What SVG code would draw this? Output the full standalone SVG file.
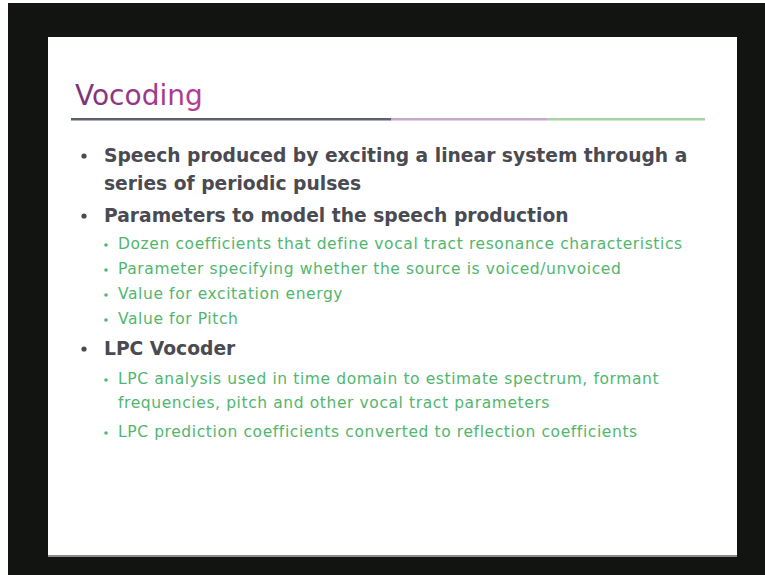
<svg xmlns="http://www.w3.org/2000/svg" width="765" height="575" viewBox="0 0 765 575">
  <style>
    .title { font-family: "DejaVu Sans", "Liberation Sans", sans-serif; font-size: 28px; }
    .main { font-family: "DejaVu Sans", "Liberation Sans", sans-serif; font-size: 18.7px; font-weight: bold; fill: #4a4a52; }
    .sub { font-family: "DejaVu Sans", "Liberation Sans", sans-serif; font-size: 15.5px; letter-spacing: 0.6px; fill: #52b66e; }
    .dot { fill: #4a4a52; }
    .sdot { fill: #52b66e; }
  </style>
  <defs>
    <linearGradient id="titleGrad" x1="0" y1="0" x2="1" y2="0">
      <stop offset="0" stop-color="#7a3478"/>
      <stop offset="1" stop-color="#b83c94"/>
    </linearGradient>
  </defs>

  <!-- page and dark frame -->
  <rect x="0" y="0" width="765" height="575" fill="#ffffff"/>
  <rect x="8" y="3" width="757" height="572" fill="#111410"/>
  <rect x="48" y="37" width="689" height="520" fill="#ffffff"/>
  <rect x="48" y="555" width="689" height="2" fill="#8a8c8a"/>

  <!-- title -->
  <g id="title">
    <text class="title" x="75" y="105" style="fill:url(#titleGrad)">Vocoding</text>
    <rect x="71" y="118" width="320" height="2.5" fill="#5c6172"/>
    <rect x="391" y="118" width="156" height="2.5" fill="#cba6cc"/>
    <rect x="547" y="118" width="158" height="2.5" fill="#a6d3a2"/>
  </g>

  <!-- bullet 1 -->
  <g id="b1">
    <circle class="dot" cx="84" cy="156" r="2.6"/>
    <text class="main" x="104" y="162">Speech produced by exciting a linear system through a</text>
    <text class="main" x="104" y="190">series of periodic pulses</text>
  </g>

  <!-- bullet 2 -->
  <g id="b2">
    <circle class="dot" cx="84" cy="216" r="2.6"/>
    <text class="main" x="104" y="222">Parameters to model the speech production</text>
    <circle class="sdot" cx="106" cy="245" r="1.8"/>
    <text class="sub" x="118" y="249">Dozen coefficients that define vocal tract resonance characteristics</text>
    <circle class="sdot" cx="106" cy="270" r="1.8"/>
    <text class="sub" x="118" y="274">Parameter specifying whether the source is voiced/unvoiced</text>
    <circle class="sdot" cx="106" cy="295" r="1.8"/>
    <text class="sub" x="118" y="299">Value for excitation energy</text>
    <circle class="sdot" cx="106" cy="320" r="1.8"/>
    <text class="sub" x="118" y="324">Value for Pitch</text>
  </g>

  <!-- bullet 3 -->
  <g id="b3">
    <circle class="dot" cx="84" cy="349" r="2.6"/>
    <text class="main" x="104" y="355">LPC Vocoder</text>
    <circle class="sdot" cx="106" cy="380" r="1.8"/>
    <text class="sub" x="118" y="384">LPC analysis used in time domain to estimate spectrum, formant</text>
    <text class="sub" x="118" y="408">frequencies, pitch and other vocal tract parameters</text>
    <circle class="sdot" cx="106" cy="433" r="1.8"/>
    <text class="sub" x="118" y="437">LPC prediction coefficients converted to reflection coefficients</text>
  </g>
</svg>
